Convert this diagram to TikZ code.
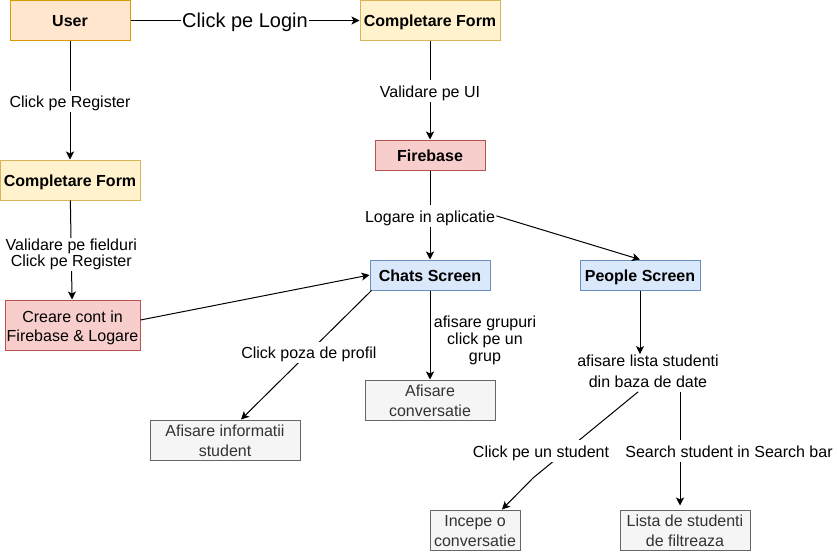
\documentclass[tikz,border=0pt]{standalone}
\usepackage{fontspec}
\setmainfont{Liberation Sans}
\usetikzlibrary{arrows.meta,calc}
\definecolor{orfill}{HTML}{FFE6CC}\definecolor{ordraw}{HTML}{D79B00}
\definecolor{yefill}{HTML}{FFF2CC}\definecolor{yedraw}{HTML}{D6B656}
\definecolor{refill}{HTML}{F8CECC}\definecolor{redraw}{HTML}{B85450}
\definecolor{blfill}{HTML}{DAE8FC}\definecolor{bldraw}{HTML}{6C8EBF}
\definecolor{grfill}{HTML}{F5F5F5}\definecolor{grdraw}{HTML}{666666}
\definecolor{grtext}{HTML}{333333}
\newcommand{\lastdp}{\rule[-3.4pt]{0pt}{3.4pt}}
\newcommand{\firstht}{\rule{0pt}{16.5pt}}
\begin{document}
\begin{tikzpicture}[x=1pt,y=-1pt,
  box/.style={draw, line width=1pt, inner sep=0pt, align=center, font=\fontsize{16}{19}\selectfont},
  bbox/.style={box, font=\bfseries\fontsize{16}{19}\selectfont, text height=13pt, text depth=1pt},
  orbox/.style={fill=orfill, draw=ordraw},
  yebox/.style={fill=yefill, draw=yedraw},
  rebox/.style={fill=refill, draw=redraw},
  blbox/.style={fill=blfill, draw=bldraw},
  grbox/.style={fill=grfill, draw=grdraw, text=grtext},
  lbl/.style={fill=white, inner sep=1pt, align=center, font=\fontsize{16}{19}\selectfont},
  lblone/.style={lbl, text height=16pt, text depth=3.5pt},
  edge/.style={draw, line width=1pt, -{Stealth[length=8pt,width=8pt,inset=2pt]}}
]
\useasboundingbox[fill=white] (0,0) rectangle (837,551);

% nodes
\node[bbox, orbox, minimum width=120pt, minimum height=40pt] (user) at (70,20.5) {User};
\node[bbox, yebox, minimum width=140pt, minimum height=40pt] (cftop) at (430,20.5) {Completare Form};
\node[bbox, rebox, minimum width=110pt, minimum height=30pt] (fb) at (430,155) {Firebase};
\node[bbox, yebox, minimum width=140pt, minimum height=40pt] (cfleft) at (70,180) {Completare Form};
\node[box, rebox, minimum width=135pt, minimum height=50pt] (creare) at (72.5,325) {\firstht Creare cont in\\Firebase \& Logare\lastdp};
\node[bbox, blbox, minimum width=120pt, minimum height=30pt] (chats) at (430,275) {Chats Screen};
\node[bbox, blbox, minimum width=120pt, minimum height=30pt] (people) at (640,275) {People Screen};
\node[box, grbox, minimum width=130pt, minimum height=40pt, font=\fontsize{16}{20}\selectfont] (conv) at (430,400) {\firstht Afisare\\conversatie\lastdp};
\node[box, grbox, minimum width=150pt, minimum height=40pt, font=\fontsize{16}{20}\selectfont] (info) at (225,440) {\firstht Afisare informatii\\student\lastdp};
\node[box, grbox, minimum width=90pt, minimum height=40pt, font=\fontsize{16}{20}\selectfont] (incepe) at (475,530) {\firstht Incepe o\\conversatie\lastdp};
\node[box, grbox, minimum width=130pt, minimum height=40pt, font=\fontsize{16}{20}\selectfont] (lista) at (685,530) {\firstht Lista de studenti\\de filtreaza\lastdp};
\node[lbl, fill=none, font=\fontsize{16}{20.5}\selectfont] (plist) at (648,373) {afisare lista studenti\\din baza de date\lastdp};
\coordinate (bend) at (533,478);

% edges
\draw[edge] (user) -- node[lblone, font=\fontsize{20}{24}\selectfont, text height=18pt, text depth=4pt] {Click pe Login} (cftop);
\draw[edge] (user) -- node[lblone, pos=0.51] {Click pe Register} (cfleft);
\draw[edge] (cftop) -- node[lblone, pos=0.51] {Validare pe UI} (fb);
\draw[edge] (cfleft) -- node[lbl, pos=0.545, font=\fontsize{16}{16}\selectfont] {Validare pe fielduri\\Click pe Register} (creare);
\draw[edge] ([yshift=5pt]creare.east) -- (chats.west);
\draw[edge] (fb) -- node[lblone, pos=0.51] (logare) {Logare in aplicatie} (chats);
\draw[edge] (logare.east) -- (people.north);
\draw[edge] ([xshift=2pt]chats.south west) -- node[lblone, pos=0.48] {Click poza de profil} ([xshift=16pt]info.north);
\draw[edge] (chats) -- (conv);
\node[lbl, fill=none, font=\fontsize{16}{17}\selectfont] (grp) at (485,340) {afisare grupuri\\click pe un\\grup};
\draw[edge] (people) -- (people.south |- plist.north);
\draw[edge] ([xshift=-10pt]plist.south) -- (bend) -- ([xshift=27pt]incepe.north);
\node[lblone] (lstud) at (541,451) {Click pe un student};
\draw[edge, shorten >=4pt] ([xshift=32pt]plist.south) -- ([xshift=-5pt]lista.north);
\node[lblone] (lsearch) at (729,451) {Search student in Search bar};
\end{tikzpicture}
\end{document}
